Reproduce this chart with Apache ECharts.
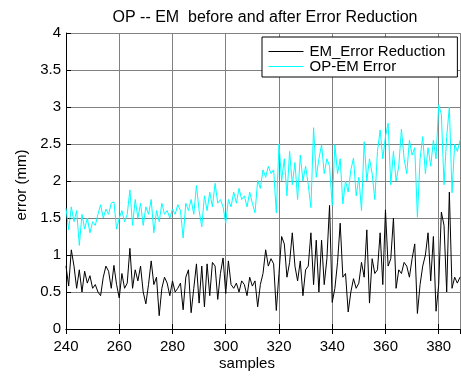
<!DOCTYPE html>
<html>
<head>
<meta charset="utf-8">
<script src="https://cdn.jsdelivr.net/npm/echarts@6/dist/echarts.min.js"></script>
<style>
  html, body { margin: 0; padding: 0; background: #fff; }
  #chart { width: 461px; height: 382px; }
</style>
</head>
<body>
<div id="chart"></div>
<script>
// samples 240..388, one value per sample
const startSample = 240;
const emErrorReduction = [
  0.85, 0.58, 1.07, 0.85, 0.55, 0.80, 0.50, 0.78, 0.62, 0.72,
  0.55, 0.60, 0.50, 0.45, 0.70, 0.85, 0.78, 0.55, 0.86, 0.60,
  0.42, 0.75, 0.55, 0.62, 1.09, 0.55, 0.80, 0.65, 0.85, 0.50,
  0.34, 0.60, 0.92, 0.60, 0.70, 0.18, 0.55, 0.70, 0.62, 0.45,
  0.65, 0.50, 0.55, 0.62, 0.26, 0.70, 0.80, 0.22, 0.55, 0.88,
  0.35, 0.85, 0.30, 0.88, 0.45, 0.90, 0.85, 0.40, 0.75, 0.96,
  0.48, 0.92, 0.60, 0.55, 0.62, 0.50, 0.65, 0.60, 0.45, 0.70,
  0.58, 0.65, 0.30, 0.60, 0.75, 1.07, 0.85, 0.95, 0.88, 0.25,
  0.75, 1.25, 1.15, 0.70, 0.90, 1.30, 0.85, 0.65, 0.92, 0.45,
  0.80, 0.85, 1.30, 0.60, 1.20, 0.50, 1.20, 0.60, 0.95, 1.67,
  0.36, 0.55, 0.90, 1.43, 0.70, 0.75, 0.23, 0.50, 0.68, 0.55,
  0.62, 0.90, 0.70, 1.34, 0.35, 0.95, 0.75, 0.80, 1.30, 0.60,
  1.61, 0.85, 0.95, 1.50, 0.55, 0.80, 0.75, 0.90, 0.85, 0.70,
  0.95, 1.15, 0.21, 0.60, 0.85, 1.00, 1.30, 0.65, 1.25, 0.24,
  0.60, 1.58, 1.40, 0.50, 1.85, 0.55, 0.70, 0.62, 0.70
];
const opEmError = [
  1.63, 1.34, 1.65, 1.45, 1.60, 1.13, 1.55, 1.35, 1.50, 1.30,
  1.45, 1.40, 1.55, 1.68, 1.50, 1.62, 1.55, 1.70, 1.72, 1.35,
  1.50, 1.60, 1.45, 1.55, 1.88, 1.40, 1.75, 1.50, 1.70, 1.40,
  1.65, 1.55, 1.75, 1.30, 1.60, 1.45, 1.70, 1.55, 1.60, 1.50,
  1.62, 1.55, 1.68, 1.60, 1.23, 1.70, 1.60, 1.75, 1.55, 1.94,
  1.60, 1.38, 1.80, 1.60, 1.85, 1.65, 1.97, 1.70, 1.75, 1.65,
  1.43, 1.75, 1.65, 1.85, 1.70, 1.90, 1.75, 1.80, 1.65, 1.85,
  1.70, 1.57, 2.01, 1.90, 2.15, 2.05, 2.20, 2.10, 2.15, 1.57,
  2.50, 2.00, 2.30, 1.80, 2.40, 1.95, 2.25, 1.75, 2.35, 2.00,
  2.20, 1.95, 1.64, 2.72, 2.05, 2.30, 2.49, 2.10, 2.30, 2.20,
  1.67, 2.49, 2.10, 2.30, 1.69, 2.00, 1.85, 2.15, 2.31, 1.80,
  2.05, 1.60, 2.53, 2.00, 2.30, 2.10, 1.75, 2.40, 2.69, 2.30,
  2.60, 2.78, 1.95, 2.40, 2.00, 2.20, 2.70, 2.30, 2.10, 2.55,
  2.35, 2.45, 1.51, 2.30, 2.60, 2.10, 2.45, 2.20, 2.55, 2.30,
  3.03, 2.90, 1.95, 2.60, 3.00, 1.84, 2.50, 2.40, 2.55
];
const seriesNames = ['EM_Error Reduction', 'OP-EM Error'];

const font = 'Liberation Sans, Arial, sans-serif';
const chart = echarts.init(document.getElementById('chart'));

const toPairs = arr => arr.map((v, i) => [startSample + i, v]);

const option = {
  animation: false,
  backgroundColor: '#fff',
  title: {
    text: 'OP -- EM  before and after Error Reduction',
    left: 260,
    textAlign: 'center',
    top: 5,
    textStyle: { fontFamily: font, fontSize: 16, fontWeight: 'normal', color: '#000' }
  },
  legend: {
    orient: 'vertical',
    left: 262,
    top: 37,
    padding: [7, 12, 3, 6],
    itemWidth: 35,
    itemHeight: 14,
    itemGap: 0,
    backgroundColor: '#fff',
    borderColor: '#000',
    borderWidth: 1,
    borderRadius: 0,
    // hide the marker circle, keep a thin line sample
    itemStyle: { opacity: 0 },
    lineStyle: { width: 1 },
    textStyle: { fontFamily: font, fontSize: 15, color: '#000', padding: [0, 0, 0, 1] },
    data: seriesNames
  },
  grid: { left: 66, top: 33, right: 1, bottom: 53, containLabel: false },
  xAxis: [{
    type: 'value',
    min: 240,
    max: 388,
    interval: 20,
    axisLine: { show: true, onZero: false, lineStyle: { color: '#000', width: 1 } },
    axisTick: { show: true, inside: true, length: 5, lineStyle: { color: '#000' } },
    axisLabel: { showMaxLabel: false, margin: 10, fontFamily: font, fontSize: 15, color: '#000' },
    splitLine: { show: true, lineStyle: { color: '#808080', width: 1 } }
  }, {
    type: 'value',
    position: 'top',
    min: 240,
    max: 388,
    interval: 20,
    axisLine: { show: true, lineStyle: { color: '#000', width: 1 } },
    axisTick: { show: true, inside: true, length: 5, lineStyle: { color: '#000' } },
    axisLabel: { show: false },
    splitLine: { show: false }
  }],
  yAxis: {
    type: 'value',
    min: 0,
    max: 4,
    interval: 0.5,
    axisLine: { show: true, lineStyle: { color: '#000', width: 1 } },
    axisTick: { show: true, inside: true, length: 5, lineStyle: { color: '#000' } },
    axisLabel: { margin: 5, fontFamily: font, fontSize: 15, color: '#000' },
    splitLine: { show: true, lineStyle: { color: '#808080', width: 1 } }
  },
  graphic: [{
    type: 'text',
    x: 247,
    y: 364,
    style: { text: 'samples', font: '15px ' + font, fill: '#000', textAlign: 'center', textVerticalAlign: 'middle' }
  }, {
    type: 'text',
    x: 22,
    y: 185,
    rotation: Math.PI / 2,
    style: { text: 'error (mm)', font: '15px ' + font, fill: '#000', textAlign: 'center', textVerticalAlign: 'middle' }
  }],
  series: [{
    name: seriesNames[0],
    type: 'line',
    symbol: 'none',
    data: toPairs(emErrorReduction),
    lineStyle: { color: '#000', width: 1 },
    itemStyle: { color: '#000' },
    z: 3
  }, {
    name: seriesNames[1],
    type: 'line',
    symbol: 'none',
    data: toPairs(opEmError),
    lineStyle: { color: '#00ffff', width: 1 },
    itemStyle: { color: '#00ffff' },
    z: 2
  }]
};

chart.setOption(option);
</script>
</body>
</html>
